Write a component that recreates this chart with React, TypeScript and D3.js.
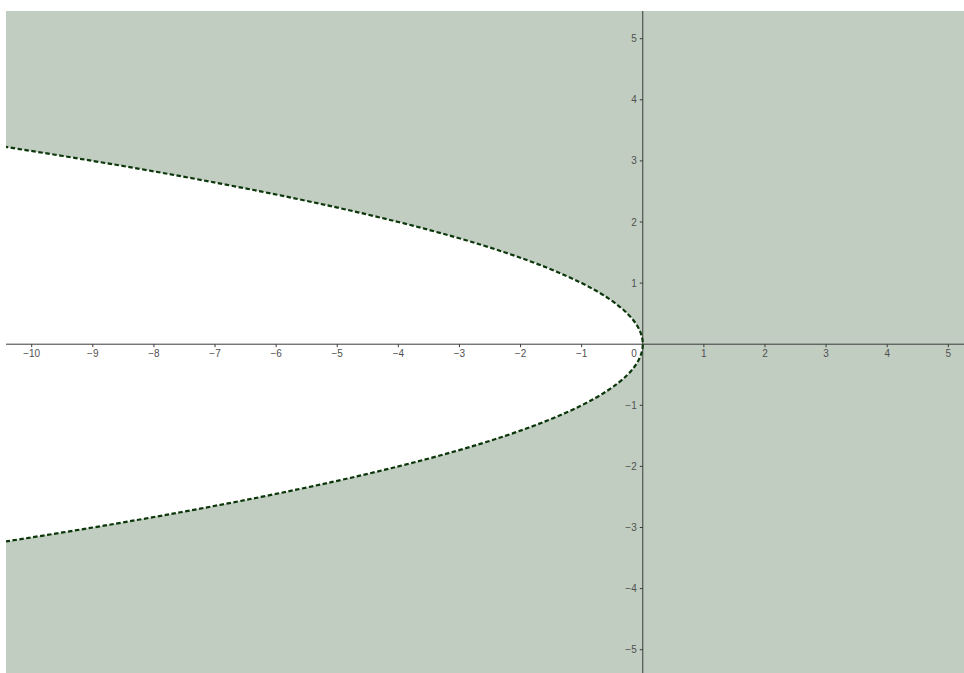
import { useEffect, useRef } from "react"
import * as d3 from "d3"

// boundary x = -y² (y, x pairs)
const curveY = [-3.4, -3.25, -3, -2.75, -2.5, -2.25, -2, -1.75, -1.5, -1.25, -1, -0.75, -0.5, -0.25, 0,
  0.25, 0.5, 0.75, 1, 1.25, 1.5, 1.75, 2, 2.25, 2.5, 2.75, 3, 3.25, 3.4]
const curveX = [-11.56, -10.5625, -9, -7.5625, -6.25, -5.0625, -4, -3.0625, -2.25, -1.5625, -1, -0.5625, -0.25, -0.0625, 0,
  -0.0625, -0.25, -0.5625, -1, -1.5625, -2.25, -3.0625, -4, -5.0625, -6.25, -7.5625, -9, -10.5625, -11.56]

const xTicks = [-10, -9, -8, -7, -6, -5, -4, -3, -2, -1, 1, 2, 3, 4, 5]
const yTicks = [-5, -4, -3, -2, -1, 1, 2, 3, 4, 5]

const W = 964
const H = 673
const plot = { left: 6, top: 11, right: 964, bottom: 673 }

const shade = "#c2cdc1"
const lineColor = "#0a360a"
const axisColor = "#3a3a3a"
const labelColor = "#505050"
const font = "'Liberation Sans', Arial, sans-serif"

const fmt = (v: number) => (v < 0 ? "\u2212" + Math.abs(v) : String(v))

export default function App() {
  const svgRef = useRef<SVGSVGElement>(null)

  useEffect(() => {
    const svg = d3.select(svgRef.current)
    svg.selectAll("*").remove()

    const x = d3.scaleLinear().domain([-10, 5]).range([31.7, 948.3])
    const y = d3.scaleLinear().domain([-5, 5]).range([649.7, 38.7])
    const x0 = x(0)
    const y0 = y(0)

    svg.append("defs").append("clipPath")
      .attr("id", "plot-clip")
      .append("rect")
      .attr("x", plot.left)
      .attr("y", plot.top)
      .attr("width", plot.right - plot.left)
      .attr("height", plot.bottom - plot.top)

    const g = svg.append("g").attr("clip-path", "url(#plot-clip)")

    // shaded region x > -y²
    g.append("rect")
      .attr("x", plot.left)
      .attr("y", plot.top)
      .attr("width", plot.right - plot.left)
      .attr("height", plot.bottom - plot.top)
      .attr("fill", shade)

    const pts: [number, number][] = curveY.map((v, i) => [curveX[i], v])
    const line = d3.line<[number, number]>()
      .x(d => x(d[0]))
      .y(d => y(d[1]))
      .curve(d3.curveNatural)

    // inside of the parabola stays white
    g.append("path")
      .attr("d", line(pts) + "Z")
      .attr("fill", "#ffffff")

    // axes
    g.append("line")
      .attr("x1", plot.left).attr("x2", plot.right)
      .attr("y1", y0).attr("y2", y0)
      .attr("stroke", axisColor).attr("stroke-width", 1)
    g.append("line")
      .attr("x1", x0).attr("x2", x0)
      .attr("y1", plot.top).attr("y2", plot.bottom)
      .attr("stroke", axisColor).attr("stroke-width", 1)

    g.selectAll(".xt").data(xTicks).join("line")
      .attr("x1", d => x(d)).attr("x2", d => x(d))
      .attr("y1", y0).attr("y2", y0 + 3)
      .attr("stroke", axisColor)
    g.selectAll(".xl").data(xTicks).join("text")
      .attr("x", d => x(d))
      .attr("y", y0 + 13)
      .attr("text-anchor", "middle")
      .attr("font-family", font)
      .attr("font-size", 10)
      .attr("fill", labelColor)
      .text(d => fmt(d))

    g.selectAll(".yt").data(yTicks).join("line")
      .attr("x1", x0 - 3).attr("x2", x0)
      .attr("y1", d => y(d)).attr("y2", d => y(d))
      .attr("stroke", axisColor)
    g.selectAll(".yl").data(yTicks).join("text")
      .attr("x", x0 - 6)
      .attr("y", d => y(d) + 3.5)
      .attr("text-anchor", "end")
      .attr("font-family", font)
      .attr("font-size", 10)
      .attr("fill", labelColor)
      .text(d => fmt(d))

    g.append("text")
      .attr("x", x0 - 6)
      .attr("y", y0 + 13)
      .attr("text-anchor", "end")
      .attr("font-family", font)
      .attr("font-size", 10)
      .attr("fill", labelColor)
      .text("0")

    // dashed boundary
    g.append("path")
      .attr("d", line(pts))
      .attr("fill", "none")
      .attr("stroke", lineColor)
      .attr("stroke-width", 2.2)
      .attr("stroke-dasharray", "4.5,2.5")
  }, [])

  return (
    <svg
      ref={svgRef}
      width={W}
      height={H}
      style={{ position: "absolute", left: 0, top: 0, background: "#ffffff" }}
    />
  )
}
